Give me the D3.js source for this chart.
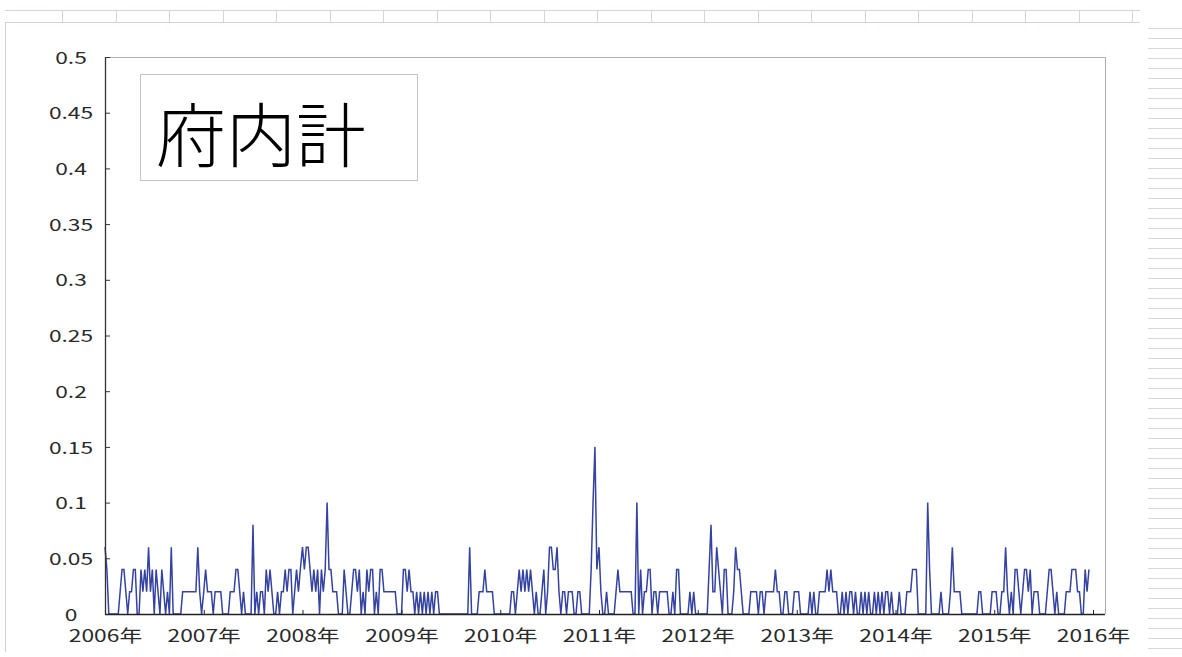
<!DOCTYPE html>
<html><head><meta charset="utf-8">
<script src="https://cdn.jsdelivr.net/npm/d3@7"></script>
<style>body{margin:0;background:#fff;overflow:hidden}</style></head>
<body><svg id="c" width="1182" height="657"></svg>
<script>
// weekly values per year (府内計)
const years = [2006,2007,2008,2009,2010,2011,2012,2013,2014,2015];
const v2006 = [0.06,0.04,0,0,0,0,0,0,0.02,0.04,0.04,0.02,0,0.02,0.02,0.04,0.04,0,0,0.04,0.02,0.04,0.02,0.06,0.02,0.04,0,0.04,0.02,0,0.04,0.02,0,0.02,0,0.06,0,0,0,0,0,0.02,0.02,0.02,0.02,0.02,0.02,0.02,0.02,0.06,0.02,0];
const v2007 = [0.02,0.04,0.02,0.02,0.02,0,0.02,0.02,0.02,0.02,0,0,0,0,0.02,0.02,0.02,0.04,0.04,0.02,0,0.02,0,0,0,0,0.08,0,0.02,0,0.02,0.02,0,0.04,0.02,0.04,0.02,0,0,0.02,0,0.02,0.02,0.04,0.02,0.04,0.04,0,0.02,0.04,0.02,0.04];
const v2008 = [0.06,0.04,0.06,0.06,0.04,0.02,0.04,0.02,0.04,0,0.04,0.02,0.04,0.1,0.04,0.04,0.02,0.02,0.02,0,0,0,0.04,0.02,0,0,0.02,0.04,0.04,0.02,0.04,0,0.02,0,0.04,0.02,0.04,0.04,0,0.02,0,0.04,0.04,0.02,0.02,0.02,0.02,0.02,0.02,0.02,0,0];
const v2009 = [0,0.04,0.04,0.02,0.04,0.02,0.02,0,0.02,0,0.02,0,0.02,0,0.02,0,0.02,0,0.02,0.02,0,0,0,0,0,0,0,0,0,0,0,0,0,0,0,0,0.06,0,0,0,0,0.02,0.02,0.02,0.04,0.02,0.02,0.02,0.02,0,0,0];
const v2010 = [0,0,0,0,0,0,0.02,0.02,0,0.02,0.04,0.02,0.04,0.02,0.04,0.02,0.04,0.02,0,0.02,0,0,0.02,0.04,0,0.02,0.06,0.06,0.04,0.04,0.06,0.02,0,0.02,0.02,0,0.02,0.02,0.02,0,0,0.02,0.02,0,0,0,0,0,0.04,0.1,0.15,0.04];
const v2011 = [0.06,0.02,0,0,0.02,0,0,0,0,0.02,0.04,0.02,0.02,0.02,0.02,0.02,0.02,0.02,0,0,0.1,0,0.04,0,0.02,0.02,0.04,0.04,0,0.02,0.02,0,0.02,0.02,0.02,0.02,0.02,0,0,0.02,0,0.04,0.04,0,0,0,0,0,0.02,0,0.02,0];
const v2012 = [0,0,0,0,0,0,0.04,0.08,0.02,0.02,0.06,0.04,0.02,0,0.04,0.04,0,0,0,0.02,0.06,0.04,0.04,0.02,0,0,0,0,0.02,0.02,0.02,0.02,0,0.02,0.02,0,0.02,0.02,0.02,0.02,0.02,0.04,0.02,0.02,0,0,0.02,0.02,0,0,0,0.02];
const v2013 = [0.02,0.02,0,0,0,0,0,0.02,0,0.02,0,0,0.02,0.02,0.02,0.02,0.04,0.02,0.04,0.02,0.02,0.02,0,0,0.02,0,0.02,0,0.02,0.02,0,0.02,0,0,0.02,0,0.02,0,0.02,0,0,0.02,0,0.02,0,0.02,0,0.02,0.02,0,0.02,0];
const v2014 = [0,0,0.02,0,0,0,0.02,0.02,0.02,0.04,0.04,0.04,0,0,0,0,0,0.1,0.04,0,0,0,0,0,0.02,0,0,0,0,0.02,0.06,0.02,0.02,0.02,0.02,0,0,0,0,0,0,0,0,0,0.02,0.02,0,0,0,0,0,0.02];
const v2015 = [0.02,0.02,0,0,0.02,0.02,0.06,0.02,0,0.02,0,0.04,0.04,0.02,0,0.02,0.04,0.04,0.02,0.04,0,0.02,0.02,0.02,0,0,0,0,0.02,0.04,0.04,0.02,0,0.02,0,0,0,0,0.02,0.02,0.02,0.04,0.04,0.04,0.02,0.02,0,0,0.04,0.02,0.04];
const yearValues = [v2006,v2007,v2008,v2009,v2010,v2011,v2012,v2013,v2014,v2015];
const yTicks = [0,0.05,0.1,0.15,0.2,0.25,0.3,0.35,0.4,0.45,0.5];
const yTickLabels = ["0","0.05","0.1","0.15","0.2","0.25","0.3","0.35","0.4","0.45","0.5"];
const xTickYears = [2006,2007,2008,2009,2010,2011,2012,2013,2014,2015,2016];
const xTickLabels = ["2006年","2007年","2008年","2009年","2010年","2011年","2012年","2013年","2014年","2015年","2016年"];
const title = "府内計";

const data = [];
years.forEach((yr,i)=>{
  yearValues[i].forEach((v,k)=>data.push({date:new Date(yr,0,1+7*k), value:v}));
});

const svg = d3.select("#c");
const FONT = "'Noto Sans CJK JP','Noto Sans',sans-serif";
const L=105, R=1105, T=57, B=614;
const SX = 1.34;

// spreadsheet background decoration
const deco = svg.append("g").attr("stroke","#ddd0d0").attr("stroke-width",1);
deco.append("line").attr("x1",5).attr("x2",1140).attr("y1",10.5).attr("y2",10.5);
deco.append("line").attr("x1",5).attr("x2",1140).attr("y1",22.5).attr("y2",22.5);
d3.range(21).forEach(n=>{
  const xx = Math.round(62+53.5*n)+0.5;
  deco.append("line").attr("x1",xx).attr("x2",xx).attr("y1",10).attr("y2",22);
});
deco.append("line").attr("x1",5.5).attr("x2",5.5).attr("y1",22).attr("y2",652).attr("stroke","#cfcfcf");
d3.range(63).forEach(n=>{
  const yy = Math.round(28+10*n)+0.5;
  if (yy<652) deco.append("line").attr("x1",1148).attr("x2",1182).attr("y1",yy).attr("y2",yy).attr("stroke","#d8d8d8");
});

const x = d3.scaleTime().domain([new Date(2006,0,1), new Date(2016,0,1)]).range([L,1093]);
const y = d3.scaleLinear().domain([0,0.5]).range([B,T]);

// plot frame (top/right)
svg.append("path").attr("d",`M${L},${T+0.5}H${R+0.5}V${B}`).attr("fill","none").attr("stroke","#b8a8a8").attr("stroke-width",1);

// line
const line = d3.line().x(d=>x(d.date)).y(d=>y(d.value));
svg.append("path").datum(data).attr("d",line).attr("fill","none")
  .attr("stroke","#3442a0").attr("stroke-width",1.5).attr("stroke-linejoin","miter");

// y axis
const yAxis = d3.axisLeft(y).tickValues(yTicks).tickSizeInner(-5).tickSizeOuter(0)
  .tickFormat((d,i)=>yTickLabels[i]);
const gy = svg.append("g").attr("transform",`translate(${L},0)`).call(yAxis);
gy.select(".domain").attr("stroke","#333").attr("stroke-width",1.3);
gy.selectAll(".tick line").attr("stroke","#333");
gy.selectAll(".tick text").attr("x",-34/SX).attr("dy","0.36em").attr("text-anchor","middle")
  .attr("transform",`scale(${SX},1)`).attr("fill","#2a2a2a")
  .style("font-family",FONT).style("font-size","17px");

// x axis
const xAxis = d3.axisBottom(x).tickValues(xTickYears.map(yy=>new Date(yy,0,1)))
  .tickSizeInner(-4).tickSizeOuter(0).tickFormat((d,i)=>xTickLabels[i]);
const gx = svg.append("g").attr("transform",`translate(0,${B})`).call(xAxis);
gx.select(".domain").attr("d",`M${L},0.5H${R}`).attr("stroke","#222").attr("stroke-width",1.3);
gx.selectAll(".tick line").attr("stroke","#222");
gx.selectAll(".tick text").attr("y",22).attr("dy","0.36em").attr("text-anchor","middle")
  .attr("transform",`scale(${SX},1)`).attr("fill","#2a2a2a")
  .style("font-family",FONT).style("font-size","17px");

// title box
svg.append("rect").attr("x",140.5).attr("y",74.5).attr("width",277).attr("height",106)
  .attr("fill","#fff").attr("stroke","#c4c4c4");
svg.append("text").attr("x",261).attr("y",131).attr("text-anchor","middle")
  .attr("dominant-baseline","central").attr("fill","#000")
  .style("font-family",FONT).style("font-weight","300").style("font-size","70px").text(title);
</script></body></html>
